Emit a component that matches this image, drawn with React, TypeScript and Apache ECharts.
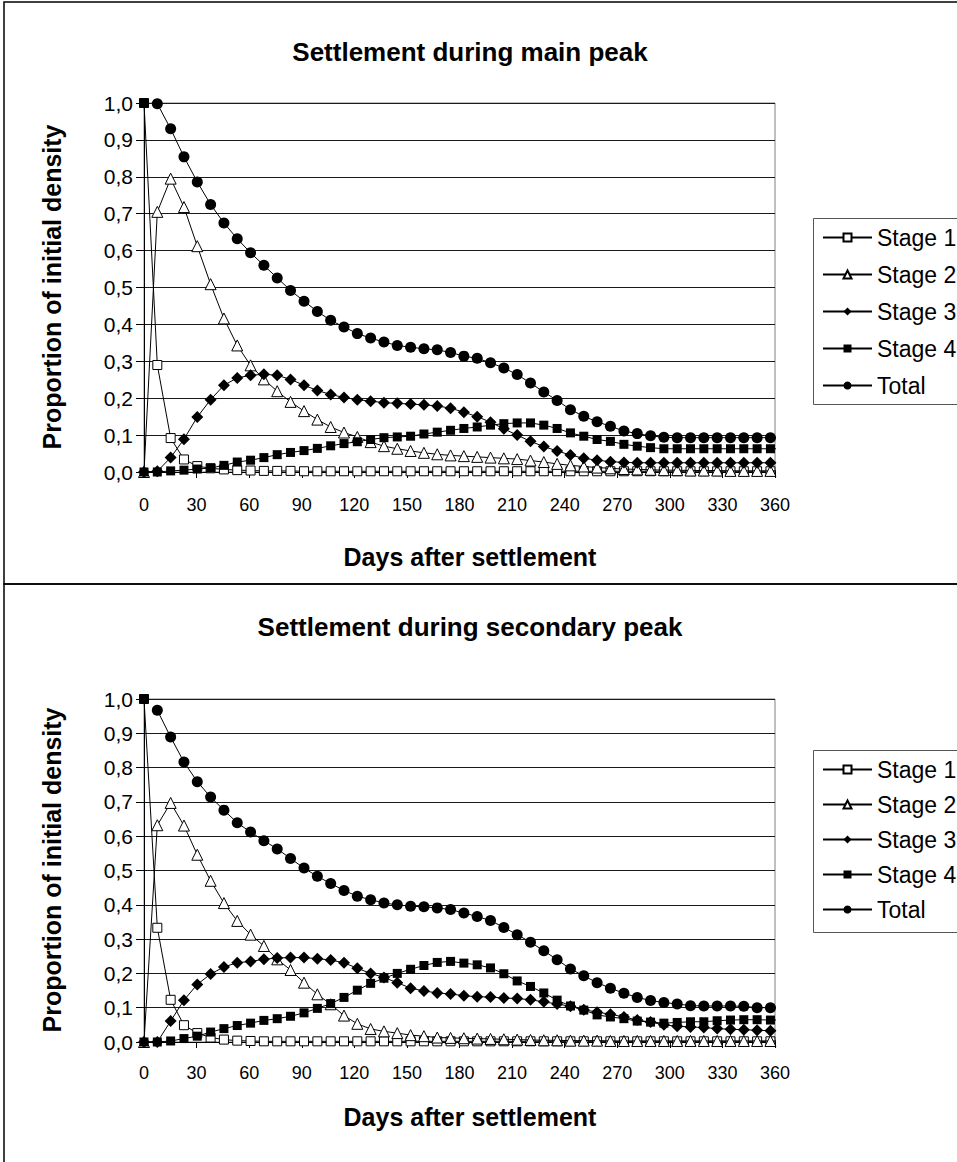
import React, { useEffect, useRef } from "react";
import * as echarts from "echarts";

const FONT = '"Liberation Sans", Arial, Helvetica, sans-serif';

// x positions of the samples (days after settlement); the last one lies just past the axis end
const days = [
  0, 7.6, 15.2, 22.8, 30.4, 38.0, 45.6, 53.2, 60.8, 68.4, 76.0, 83.6, 91.3, 98.9, 106.5, 114.1,
  121.7, 129.3, 136.9, 144.5, 152.1, 159.7, 167.3, 174.9, 182.5, 190.1, 197.7, 205.3, 212.9,
  220.5, 228.1, 235.7, 243.3, 250.9, 258.5, 266.1, 273.8, 281.4, 289.0, 296.6, 304.2, 311.8,
  319.4, 327.0, 334.6, 342.2, 349.8, 357.4, 365.0,
];

const xTicks = [0, 30, 60, 90, 120, 150, 180, 210, 240, 270, 300, 330, 360];
const yTicks = [0, 0.1, 0.2, 0.3, 0.4, 0.5, 0.6, 0.7, 0.8, 0.9, 1.0];

const seriesNames = ["Stage 1", "Stage 2", "Stage 3", "Stage 4", "Total"];

// ---- Settlement during main peak ----
const mainStage1 = [
  1.0, 0.29, 0.092, 0.034, 0.016, 0.01, 0.007, 0.005, 0.004, 0.003, 0.003, 0.003, 0.002, 0.002,
  0.002, 0.002, 0.002, 0.002, 0.002, 0.002, 0.002, 0.002, 0.002, 0.002, 0.002, 0.002, 0.002,
  0.002, 0.002, 0.002, 0.002, 0.002, 0.002, 0.002, 0.002, 0.002, 0.002, 0.002, 0.002, 0.002,
  0.002, 0.002, 0.002, 0.002, 0.002, 0.002, 0.002, 0.002, 0.002,
];
const mainStage2 = [
  0, 0.705, 0.795, 0.718, 0.612, 0.509, 0.416, 0.343, 0.289, 0.251, 0.219, 0.19, 0.165, 0.142,
  0.122, 0.107, 0.095, 0.081, 0.07, 0.063, 0.057, 0.052, 0.048, 0.045, 0.043, 0.041, 0.039,
  0.037, 0.035, 0.031, 0.027, 0.022, 0.018, 0.015, 0.012, 0.01, 0.008, 0.007, 0.006, 0.005,
  0.005, 0.004, 0.004, 0.004, 0.003, 0.003, 0.003, 0.003, 0.003,
];
const mainStage3 = [
  0, 0.002, 0.039, 0.089, 0.149, 0.196, 0.235, 0.255, 0.262, 0.265, 0.262, 0.251, 0.235, 0.221,
  0.21, 0.202, 0.196, 0.192, 0.188, 0.186, 0.184, 0.182, 0.179, 0.173, 0.162, 0.15, 0.135,
  0.117, 0.1, 0.083, 0.069, 0.057, 0.046, 0.037, 0.032, 0.028, 0.026, 0.025, 0.025, 0.025,
  0.025, 0.025, 0.025, 0.025, 0.025, 0.025, 0.025, 0.025, 0.025,
];
const mainStage4 = [
  0, 0, 0.003, 0.005, 0.008, 0.011, 0.018, 0.027, 0.032, 0.039, 0.047, 0.053, 0.058, 0.064,
  0.071, 0.077, 0.082, 0.088, 0.093, 0.095, 0.097, 0.103, 0.108, 0.113, 0.118, 0.122, 0.127,
  0.131, 0.133, 0.133, 0.127, 0.118, 0.106, 0.097, 0.088, 0.083, 0.075, 0.07, 0.066, 0.063,
  0.063, 0.063, 0.063, 0.063, 0.063, 0.063, 0.063, 0.063, 0.063,
];
const mainTotal = [
  null, 0.998, 0.93, 0.854, 0.786, 0.725, 0.675, 0.632, 0.594, 0.56, 0.526, 0.492, 0.463,
  0.435, 0.411, 0.393, 0.375, 0.363, 0.352, 0.343, 0.338, 0.334, 0.331, 0.324, 0.314, 0.308,
  0.296, 0.282, 0.264, 0.241, 0.217, 0.194, 0.169, 0.151, 0.136, 0.124, 0.111, 0.104, 0.098,
  0.094, 0.093, 0.093, 0.093, 0.093, 0.093, 0.093, 0.093, 0.093, 0.093,
];

// ---- Settlement during secondary peak ----
const secStage1 = [
  1.0, 0.333, 0.123, 0.049, 0.026, 0.013, 0.007, 0.004, 0.003, 0.002, 0.002, 0.002, 0.002,
  0.002, 0.002, 0.002, 0.002, 0.002, 0.002, 0.002, 0.002, 0.002, 0.002, 0.002, 0.002, 0.002,
  0.002, 0.002, 0.002, 0.002, 0.002, 0.002, 0.002, 0.002, 0.002, 0.002, 0.002, 0.002, 0.002,
  0.002, 0.002, 0.002, 0.002, 0.002, 0.002, 0.002, 0.002, 0.002, 0.002,
];
const secStage2 = [
  0, 0.632, 0.697, 0.631, 0.546, 0.47, 0.405, 0.353, 0.313, 0.28, 0.241, 0.21, 0.173, 0.139,
  0.11, 0.077, 0.053, 0.038, 0.031, 0.026, 0.02, 0.017, 0.013, 0.012, 0.011, 0.01, 0.009, 0.008,
  0.007, 0.006, 0.005, 0.005, 0.004, 0.004, 0.004, 0.003, 0.003, 0.003, 0.003, 0.003, 0.003,
  0.003, 0.003, 0.003, 0.003, 0.003, 0.003, 0.003, 0.003,
];
const secStage3 = [
  0, 0, 0.061, 0.122, 0.168, 0.198, 0.219, 0.231, 0.235, 0.241, 0.245, 0.246, 0.246, 0.243,
  0.239, 0.231, 0.215, 0.2, 0.188, 0.173, 0.157, 0.149, 0.143, 0.14, 0.135, 0.132, 0.131, 0.128,
  0.127, 0.123, 0.117, 0.111, 0.104, 0.094, 0.087, 0.081, 0.073, 0.064, 0.058, 0.05, 0.046,
  0.044, 0.042, 0.039, 0.037, 0.036, 0.034, 0.033, 0.033,
];
const secStage4 = [
  0, 0, 0.003, 0.01, 0.017, 0.029, 0.039, 0.048, 0.055, 0.063, 0.068, 0.075, 0.085, 0.098, 0.112,
  0.13, 0.151, 0.171, 0.186, 0.2, 0.212, 0.223, 0.232, 0.235, 0.23, 0.225, 0.216, 0.199, 0.178,
  0.162, 0.143, 0.122, 0.105, 0.093, 0.079, 0.073, 0.068, 0.061, 0.058, 0.055, 0.057, 0.059,
  0.059, 0.062, 0.064, 0.065, 0.065, 0.064, 0.064,
];
const secTotal = [
  null, 0.967, 0.889, 0.816, 0.759, 0.714, 0.676, 0.639, 0.612, 0.587, 0.563, 0.535, 0.507,
  0.483, 0.462, 0.442, 0.425, 0.415, 0.405, 0.4, 0.396, 0.394, 0.391, 0.386, 0.376, 0.366,
  0.354, 0.334, 0.313, 0.291, 0.266, 0.24, 0.213, 0.193, 0.173, 0.157, 0.142, 0.13, 0.121,
  0.115, 0.111, 0.106, 0.105, 0.105, 0.105, 0.104, 0.1, 0.1, 0.1,
];

const markerStyles: any = {
  "Stage 1": { symbol: "rect", symbolSize: 9, itemStyle: { color: "#fff", borderColor: "#000", borderWidth: 1 } },
  "Stage 2": { symbol: "triangle", symbolSize: 11, itemStyle: { color: "#fff", borderColor: "#000", borderWidth: 1 } },
  "Stage 3": { symbol: "diamond", symbolSize: 12, itemStyle: { color: "#000", borderColor: "#000", borderWidth: 0 } },
  "Stage 4": { symbol: "rect", symbolSize: 9, itemStyle: { color: "#000", borderColor: "#000", borderWidth: 0 } },
  Total: { symbol: "circle", symbolSize: 11, itemStyle: { color: "#000", borderColor: "#000", borderWidth: 0 } },
};

function buildData(name: string, vals: (number | null)[]) {
  const out: any[] = [];
  days.forEach((d, i) => {
    const v = vals[i];
    if (v === null || v === undefined) return;
    const item: any = { value: [d, v] };
    if (d > 360) item.symbol = "none";
    if (name === "Stage 1" && i === 0) item.itemStyle = { color: "#000" };
    out.push(item);
  });
  return out;
}

function buildSeries(gridIdx: number, sets: (number | null)[][]) {
  return seriesNames.map((name, k) => ({
    name,
    type: "line",
    xAxisIndex: gridIdx,
    yAxisIndex: gridIdx,
    data: buildData(name, sets[k]),
    clip: false,
    lineStyle: { color: "#000", width: 1 },
    ...markerStyles[name],
    emphasis: { disabled: true },
    z: 3 + k,
  }));
}

const fmtY = (v: number) => v.toFixed(1).replace(".", ",");

function xAxisCfg(gridIndex: number, margin: number) {
  return {
    type: "value",
    gridIndex,
    min: xTicks[0],
    max: xTicks[xTicks.length - 1],
    interval: xTicks[1] - xTicks[0],
    axisLine: { show: true, lineStyle: { color: "#000", width: 1 } },
    axisTick: { show: true, length: 6, lineStyle: { color: "#000" } },
    axisLabel: { fontSize: 18, color: "#000", fontFamily: FONT, margin },
    splitLine: { show: false },
  };
}

function yAxisCfg(gridIndex: number) {
  return {
    type: "value",
    gridIndex,
    min: yTicks[0],
    max: yTicks[yTicks.length - 1],
    interval: 0.1,
    axisLine: { show: true, lineStyle: { color: "#000", width: 1 } },
    axisTick: { show: true, length: 8, lineStyle: { color: "#000" } },
    axisLabel: { fontSize: 21, color: "#000", fontFamily: FONT, margin: 11, formatter: fmtY },
    splitLine: { show: true, lineStyle: { color: "#1a1a1a", width: 1 } },
  };
}

function legendCfg(top: number, gap: number) {
  return {
    data: seriesNames,
    orient: "vertical",
    left: 822,
    top,
    padding: 0,
    itemWidth: 49,
    itemHeight: 10,
    itemGap: gap,
    selectedMode: false,
    textStyle: { fontSize: 23, fontFamily: FONT, color: "#000", lineHeight: 22 },
  };
}

function txt(text: string, x: number, y: number, size: number, rotation = 0) {
  return {
    type: "text",
    x,
    y,
    rotation,
    style: {
      text,
      fill: "#000",
      font: `bold ${size}px ${FONT}`,
      align: "center",
      verticalAlign: "middle",
    },
    silent: true,
  };
}

export default function App() {
  const ref = useRef<HTMLDivElement>(null);
  useEffect(() => {
    if (!ref.current) return;
    const chart = echarts.init(ref.current, undefined, { renderer: "svg" });
    const option: any = {
      animation: false,
      backgroundColor: "#fff",
      textStyle: { fontFamily: FONT },
      grid: [
        { left: 144, top: 103, width: 631, height: 369, show: true, borderColor: "#808080", borderWidth: 1, backgroundColor: "transparent" },
        { left: 144, top: 699, width: 631, height: 343, show: true, borderColor: "#808080", borderWidth: 1, backgroundColor: "transparent" },
      ],
      xAxis: [xAxisCfg(0, 24), xAxisCfg(1, 22)],
      yAxis: [yAxisCfg(0), yAxisCfg(1)],
      legend: [legendCfg(226, 14), legendCfg(758, 12)],
      series: [
        ...buildSeries(0, [mainStage1, mainStage2, mainStage3, mainStage4, mainTotal]),
        ...buildSeries(1, [secStage1, secStage2, secStage3, secStage4, secTotal]),
      ],
      graphic: [
        { type: "rect", shape: { x: 4, y: 2, width: 1000, height: 582 }, style: { fill: "none", stroke: "#000", lineWidth: 1.5 }, silent: true, z: -1 },
        { type: "rect", shape: { x: 4, y: 584, width: 1000, height: 700 }, style: { fill: "none", stroke: "#000", lineWidth: 1.5 }, silent: true, z: -1 },
        { type: "rect", shape: { x: 813.5, y: 218.5, width: 200, height: 186 }, style: { fill: "none", stroke: "#555", lineWidth: 1 }, silent: true },
        { type: "rect", shape: { x: 813.5, y: 750.5, width: 200, height: 182 }, style: { fill: "none", stroke: "#555", lineWidth: 1 }, silent: true },
        txt("Settlement during main peak", 470, 52, 26),
        txt("Days after settlement", 470, 557, 25),
        txt("Proportion of initial density", 52, 287, 25, Math.PI / 2),
        txt("Settlement during secondary peak", 470, 627, 26),
        txt("Days after settlement", 470, 1117, 25),
        txt("Proportion of initial density", 52, 870, 25, Math.PI / 2),
      ],
    };
    chart.setOption(option);
    return () => chart.dispose();
  }, []);
  return (
    <div
      ref={ref}
      style={{ position: "absolute", left: 0, top: 0, width: 957, height: 1162, background: "#fff" }}
    />
  );
}
